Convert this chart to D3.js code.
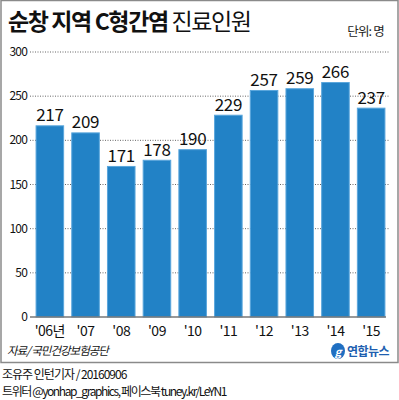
<!DOCTYPE html>
<html>
<head>
<meta charset="utf-8">
<script src="https://cdn.jsdelivr.net/npm/d3@7"></script>
<style>
  body { margin: 0; background: #fff; }
  svg { display: block; font-family: "Liberation Sans Narrow", "Noto Sans CJK KR", sans-serif; }
</style>
</head>
<body>
<svg id="chart" width="399" height="400"></svg>
<script>
const years = ["'06년", "'07", "'08", "'09", "'10", "'11", "'12", "'13", "'14", "'15"];
const patients = [217, 209, 171, 178, 190, 229, 257, 259, 266, 237];
const yTicks = [0, 50, 100, 150, 200, 250, 300];

const svg = d3.select('#chart');
const kr = '"Noto Sans CJK KR", sans-serif';

// frame
svg.append('rect')
  .attr('x', 1).attr('y', 0.5)
  .attr('width', 397).attr('height', 362)
  .attr('fill', 'none')
  .attr('stroke', '#8a8a8a')
  .attr('stroke-width', 1.5);

// title
const title = svg.append('text')
  .attr('x', 8).attr('y', 30)
  .style('font-family', kr)
  .style('font-size', '23px')
  .style('letter-spacing', '-1.4px')
  .attr('fill', '#111');
title.append('tspan').style('font-weight', 'bold').text('순창 지역 C형간염 ');
title.append('tspan').style('font-weight', 'normal').text('진료인원');

svg.append('text')
  .attr('x', 384).attr('y', 36)
  .attr('text-anchor', 'end')
  .style('font-family', kr)
  .style('font-size', '12.5px')
  .style('letter-spacing', '-0.8px')
  .attr('fill', '#222')
  .text('단위: 명');

const x = d3.scaleBand()
  .domain(years)
  .range([32, 389])
  .paddingInner(0.2)
  .paddingOuter(0.1);

const y = d3.scaleLinear()
  .domain([0, 300])
  .range([317, 52]);

// grid
svg.append('g')
  .selectAll('line')
  .data(yTicks.filter(d => d > 0))
  .join('line')
  .attr('x1', 30).attr('x2', 390)
  .attr('y1', d => y(d)).attr('y2', d => y(d))
  .attr('stroke', '#666')
  .attr('stroke-width', 1)
  .attr('stroke-dasharray', '1,1.5');

// y labels
svg.append('g')
  .selectAll('text')
  .data(yTicks)
  .join('text')
  .attr('x', 27)
  .attr('y', d => y(d) + 4)
  .attr('text-anchor', 'end')
  .style('font-size', '12px')
  .style('letter-spacing', '-0.8px')
  .attr('fill', '#111')
  .text(d => d);

// bars
svg.append('g')
  .selectAll('rect')
  .data(patients)
  .join('rect')
  .attr('x', (d, i) => x(years[i]) + 0.5)
  .attr('y', d => y(d) + 0.5)
  .attr('width', x.bandwidth() - 1)
  .attr('height', d => y(0) - y(d) - 0.5)
  .attr('fill', '#2282c6')
  .attr('stroke', '#5aa6dc')
  .attr('stroke-width', 1);

// value labels
svg.append('g')
  .selectAll('text')
  .data(patients)
  .join('text')
  .attr('x', (d, i) => x(years[i]) + x.bandwidth() / 2)
  .attr('y', d => y(d) - 4)
  .attr('text-anchor', 'middle')
  .style('font-size', '17px')
  .style('letter-spacing', '-0.3px')
  .attr('fill', '#111')
  .text(d => d);

// baseline
svg.append('line')
  .attr('x1', 30).attr('x2', 386)
  .attr('y1', y(0)).attr('y2', y(0))
  .attr('stroke', '#777')
  .attr('stroke-width', 1.5);

// x labels
svg.append('g')
  .selectAll('text')
  .data(years)
  .join('text')
  .attr('x', d => x(d) + x.bandwidth() / 2)
  .attr('y', 336)
  .attr('text-anchor', 'middle')
  .style('font-size', '14px')
  .style('letter-spacing', '-0.5px')
  .attr('fill', '#111')
  .text(d => d);

// source
svg.append('text')
  .attr('x', 7).attr('y', 355)
  .style('font-family', kr)
  .style('font-size', '11.5px')
  .style('font-style', 'italic')
  .style('letter-spacing', '-1px')
  .attr('fill', '#111')
  .text('자료/ 국민건강보험공단');

// logo
const logo = svg.append('g');
logo.append('ellipse')
  .attr('cx', 338).attr('cy', 351)
  .attr('rx', 7).attr('ry', 8)
  .attr('fill', '#1f6fc2');
logo.append('text')
  .attr('x', 338).attr('y', 355.5)
  .attr('text-anchor', 'middle')
  .style('font-family', kr)
  .style('font-size', '11px')
  .style('font-style', 'italic')
  .style('font-weight', 'bold')
  .attr('fill', '#fff')
  .text('g');
logo.append('text')
  .attr('x', 347).attr('y', 356)
  .style('font-family', kr)
  .style('font-size', '12px')
  .style('font-weight', 'bold')
  .style('letter-spacing', '-0.5px')
  .attr('fill', '#1f5fb0')
  .text('연합뉴스');

// credits
svg.append('text')
  .attr('x', 2).attr('y', 379)
  .style('font-family', kr)
  .style('font-size', '12px')
  .style('letter-spacing', '-1px')
  .attr('fill', '#111')
  .text('조유주 인턴기자 / 20160906');

svg.append('text')
  .attr('x', 2).attr('y', 396)
  .style('font-family', kr)
  .style('font-size', '12px')
  .style('letter-spacing', '-1.4px')
  .attr('fill', '#111')
  .text('트위터 @yonhap_graphics, 페이스북 tuney.kr/LeYN1');
</script>
</body>
</html>
